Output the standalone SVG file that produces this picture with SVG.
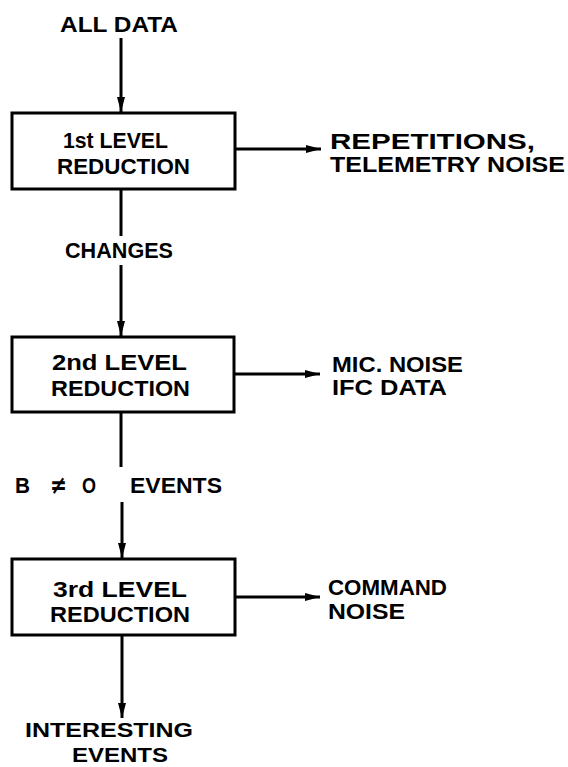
<svg xmlns="http://www.w3.org/2000/svg" width="568" height="767" viewBox="0 0 568 767">
<defs>
<marker id="ah" markerUnits="userSpaceOnUse" markerWidth="16" markerHeight="10" refX="15" refY="5" orient="auto">
<path d="M0,1 L15,5 L0,9 z" fill="#000"/>
</marker>
<style>
.box{fill:#fff;stroke:#000;stroke-width:3}
.ln{fill:none;stroke:#000;stroke-width:3}
text{font-family:"Liberation Sans","Arial",sans-serif;font-weight:bold;font-size:22px;fill:#000}
.sym{font-family:"DejaVu Sans",sans-serif;font-size:26px}
.sm{font-size:21px}
</style>
</defs>
<rect width="568" height="767" fill="#fff"/>
<g id="connectors">
<line class="ln" x1="121" y1="38" x2="121" y2="112" marker-end="url(#ah)"/>
<line class="ln" x1="121" y1="190" x2="121" y2="236"/>
<line class="ln" x1="121" y1="265" x2="121" y2="336" marker-end="url(#ah)"/>
<line class="ln" x1="121" y1="413" x2="121" y2="467"/>
<line class="ln" x1="122" y1="502" x2="122" y2="558" marker-end="url(#ah)"/>
<line class="ln" x1="122" y1="636" x2="122" y2="718" marker-end="url(#ah)"/>
<line class="ln" x1="235" y1="149" x2="321" y2="149" marker-end="url(#ah)"/>
<line class="ln" x1="234" y1="374" x2="320" y2="374" marker-end="url(#ah)"/>
<line class="ln" x1="235" y1="597" x2="320" y2="597" marker-end="url(#ah)"/>
</g>
<g id="input">
<text x="60" y="32" textLength="118" lengthAdjust="spacingAndGlyphs">ALL DATA</text>
</g>
<g id="level1">
<rect class="box" x="12" y="113" width="223" height="76"/>
<text x="63" y="148" textLength="105" lengthAdjust="spacingAndGlyphs">1st LEVEL</text>
<text x="57" y="174" textLength="133" lengthAdjust="spacingAndGlyphs">REDUCTION</text>
</g>
<g id="out1">
<text x="330" y="149" textLength="205" lengthAdjust="spacingAndGlyphs">REPETITIONS,</text>
<text x="330" y="172" textLength="235" lengthAdjust="spacingAndGlyphs">TELEMETRY NOISE</text>
</g>
<g id="changes">
<text x="65" y="258" textLength="108" lengthAdjust="spacingAndGlyphs">CHANGES</text>
</g>
<g id="level2">
<rect class="box" x="12" y="337" width="222" height="75"/>
<text x="52" y="370" textLength="135" lengthAdjust="spacingAndGlyphs">2nd LEVEL</text>
<text x="51" y="396" textLength="139" lengthAdjust="spacingAndGlyphs">REDUCTION</text>
</g>
<g id="out2">
<text x="332" y="372" textLength="131" lengthAdjust="spacingAndGlyphs">MIC. NOISE</text>
<text x="332" y="395" textLength="115" lengthAdjust="spacingAndGlyphs">IFC DATA</text>
</g>
<g id="events">
<text x="15" y="493" textLength="15" lengthAdjust="spacingAndGlyphs">B</text>
<text class="sym" x="50" y="494" textLength="17" lengthAdjust="spacingAndGlyphs">≠</text>
<text x="82" y="493" textLength="14" lengthAdjust="spacingAndGlyphs">O</text>
<text x="130" y="493" textLength="92" lengthAdjust="spacingAndGlyphs">EVENTS</text>
</g>
<g id="level3">
<rect class="box" x="12" y="559" width="223" height="76"/>
<text x="53" y="597" textLength="134" lengthAdjust="spacingAndGlyphs">3rd LEVEL</text>
<text x="50" y="622" textLength="140" lengthAdjust="spacingAndGlyphs">REDUCTION</text>
</g>
<g id="out3">
<text x="328" y="595" textLength="119" lengthAdjust="spacingAndGlyphs">COMMAND</text>
<text x="328" y="619" textLength="77" lengthAdjust="spacingAndGlyphs">NOISE</text>
</g>
<g id="output">
<text class="sm" x="25" y="737" textLength="168" lengthAdjust="spacingAndGlyphs">INTERESTING</text>
<text class="sm" x="72" y="762" textLength="96" lengthAdjust="spacingAndGlyphs">EVENTS</text>
</g>
</svg>
